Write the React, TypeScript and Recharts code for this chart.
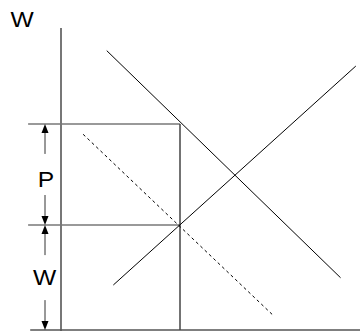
// Labour market diagram: demand, supply, shifted demand, with wage + premium brackets.
import { ComposedChart, Line, ReferenceDot, ReferenceLine, XAxis, YAxis } from 'recharts';

// chart space: quantity on x (0..100), wage on y (0..100)
const demand = [
  { x: 15.3, y: 92.5 },
  { x: 93.5, y: 17.3 },
];
const supply = [
  { x: 17.5, y: 14.9 },
  { x: 98.6, y: 87.4 },
];
const shiftedDemand = [
  { x: 7.4, y: 64.8 },
  { x: 70.8, y: 5.0 },
];

const wageTop = 68.2; // W + P
const wageBase = 34.8; // W
const employment = 39.8;
const guideStart = -11;
const bracketX = -5.35;

// [from, to] — arrow head sits at "to"
const arrows: [number, number][] = [
  [58.3, wageTop],
  [44.7, wageBase],
  [24.8, wageBase],
  [9.9, 0],
];

const labels = [
  { text: 'W', x: -13, y: 102.8 },
  { text: 'P', x: -5, y: 50 },
  { text: 'W', x: -5.5, y: 17.5 },
];

const FONT = '"Liberation Sans", Arial, sans-serif';
const AXIS = '#555';
const GUIDE = '#777';

function Arrow(props: any) {
  const { x1, y1, x2, y2 } = props;
  const len = Math.hypot(x2 - x1, y2 - y1) || 1;
  const ux = (x2 - x1) / len;
  const uy = (y2 - y1) / len;
  const hl = 9;
  const hw = 3.5;
  const bx = x2 - ux * hl;
  const by = y2 - uy * hl;
  const pts = `${x2},${y2} ${bx - uy * hw},${by + ux * hw} ${bx + uy * hw},${by - ux * hw}`;
  return (
    <g>
      <line x1={x1} y1={y1} x2={bx} y2={by} stroke="#333" strokeWidth={1} />
      <polygon points={pts} fill="#000" />
    </g>
  );
}

export default function App() {
  return (
    <div style={{ position: 'absolute', left: 0, top: 0, background: '#fff' }}>
      <style>{'body{margin:0}'}</style>
      <ComposedChart
        width={360}
        height={332}
        margin={{ top: 28, right: 0, bottom: 2, left: 61 }}
      >
        <XAxis type="number" dataKey="x" domain={[0, 100]} hide />
        <YAxis type="number" dataKey="y" domain={[0, 100]} hide />

        {/* axes */}
        <ReferenceLine
          segment={[{ x: 0, y: -0.3 }, { x: 0, y: 100 }]}
          stroke={AXIS}
          strokeWidth={1.6}
          ifOverflow="visible"
        />
        <ReferenceLine
          segment={[{ x: -10.3, y: 0 }, { x: 100, y: 0 }]}
          stroke={AXIS}
          strokeWidth={1.6}
          ifOverflow="visible"
        />

        {/* guides */}
        <ReferenceLine
          segment={[{ x: guideStart, y: wageTop }, { x: employment, y: wageTop }]}
          stroke={GUIDE}
          strokeWidth={1.5}
          ifOverflow="visible"
        />
        <ReferenceLine
          segment={[{ x: guideStart, y: wageBase }, { x: employment, y: wageBase }]}
          stroke={GUIDE}
          strokeWidth={1.5}
          ifOverflow="visible"
        />
        <ReferenceLine
          segment={[{ x: employment, y: wageTop }, { x: employment, y: 0 }]}
          stroke="#444"
          strokeWidth={1.5}
          ifOverflow="visible"
        />

        {arrows.map(([from, to], i) => (
          <ReferenceLine
            key={`a${i}`}
            segment={[{ x: bracketX, y: from }, { x: bracketX, y: to }]}
            ifOverflow="visible"
            shape={Arrow}
          />
        ))}

        <Line data={demand} dataKey="y" stroke="#000" strokeWidth={1} dot={false} isAnimationActive={false} />
        <Line data={supply} dataKey="y" stroke="#000" strokeWidth={1} dot={false} isAnimationActive={false} />
        <Line
          data={shiftedDemand}
          dataKey="y"
          stroke="#000"
          strokeWidth={1}
          strokeDasharray="3 3"
          dot={false}
          isAnimationActive={false}
        />

        {labels.map((l, i) => (
          <ReferenceDot
            key={`l${i}`}
            x={l.x}
            y={l.y}
            r={0}
            ifOverflow="visible"
            shape={(p: any) => (
              <text
                transform={`translate(${p.cx},${p.cy}) scale(1.12,1)`}
                textAnchor="middle"
                dominantBaseline="central"
                fontFamily={FONT}
                fontSize={22}
                fill="#000"
              >
                {l.text}
              </text>
            )}
          />
        ))}
      </ComposedChart>
    </div>
  );
}
